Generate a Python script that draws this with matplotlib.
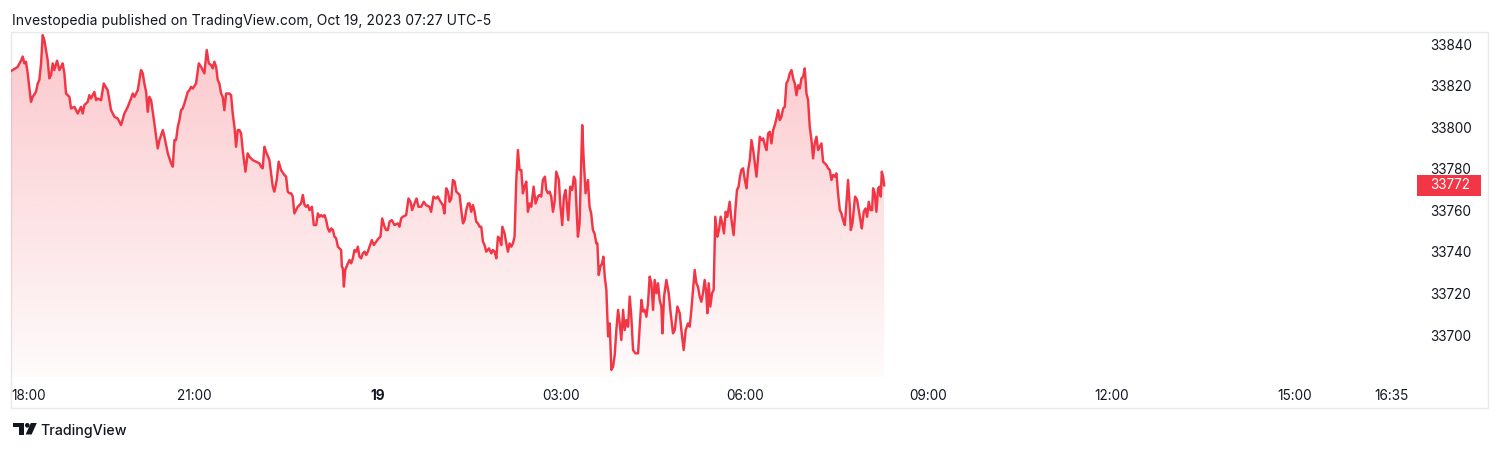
import matplotlib
matplotlib.use("Agg")
import matplotlib.pyplot as plt
import matplotlib.transforms as mtransforms
from matplotlib.patches import Rectangle, Polygon, Circle
import numpy as np

# ---------------- data (minutes after 18:00 on Oct 18, price) ----------------
t_a = [0, 1.6, 6.5, 9.8, 11.5, 13.1, 14.7, 16.4, 19.6, 21.3,
       24.5, 26.2, 27.8, 29.5, 31.1, 32.7, 36.0, 37.6, 39.3, 40.9,
       42.5, 45.2, 47.5, 49.1, 50.7, 52.4, 54.0, 57.3, 58.9, 62.2,
       65.5, 68.7, 70.4, 72.0, 75.3, 76.9, 78.5, 81.8, 83.5, 85.1,
       88.4, 91.0, 94.9, 98.2, 101.5, 104.7, 108.0, 111.3, 114.6, 117.8,
       119.5, 121.1, 124.4, 127.6, 129.3, 130.9, 132.6, 134.2, 135.8, 137.5,
       140.7, 144.0]
p_a = [33827, 33827.5, 33829, 33832, 33834, 33830.7, 33831.5, 33825.9, 33812.2, 33814.6,
       33817, 33821, 33822.7, 33830.7, 33844.3, 33841.9, 33832.3, 33823.5, 33825.1, 33830.7,
       33827.5, 33832, 33827.5, 33829, 33830.7, 33825.9, 33816.2, 33814.6, 33809, 33809.8,
       33806.6, 33809.8, 33806.6, 33810.6, 33812.2, 33815.4, 33813.8, 33817, 33813, 33813.8,
       33813, 33821, 33817.8, 33808.2, 33805, 33804.2, 33801, 33806.6, 33809.8, 33813.8,
       33816.2, 33814.6, 33817.8, 33827.5, 33825.9, 33821, 33817, 33807.4, 33814.6, 33813,
       33801.8, 33789.8]

t_b = [145.7, 149.0, 150.6, 153.9, 157.1, 158.8, 160.4, 162.0, 163.7, 165.3,
       166.9, 168.6, 170.2, 173.5, 175.1, 176.7, 178.4, 181.6, 184.3, 186.6,
       189.8, 192.1, 194.1, 196.4, 198.0, 199.6, 201.3, 202.9, 204.5, 206.2,
       207.8, 209.4, 211.1, 214.4, 216.0, 217.6, 219.3, 220.9, 222.5, 224.2,
       225.8, 227.4, 230.1, 232.3, 234.0, 237.2, 240.5, 243.8, 245.4, 247.0,
       248.7, 250.3, 253.6, 256.9, 258.5, 260.8, 262.7, 265.0, 268.3, 270.0,
       271.6, 273.2, 274.9, 276.5, 278.1, 281.4, 284.7]
p_b = [33793.8, 33798.6, 33795.4, 33787.4, 33782.6, 33781, 33793.8, 33793.8, 33800.2, 33803.4,
       33808.2, 33809, 33811.4, 33817, 33817.8, 33819.4, 33818.6, 33821, 33830.7, 33829,
       33825.9, 33837.1, 33830.7, 33829.9, 33828.3, 33831.5, 33829, 33822.7, 33821, 33816.2,
       33814.6, 33808.2, 33816.2, 33816.2, 33815.4, 33806.6, 33800.2, 33790.6, 33798.6, 33798.6,
       33797, 33789, 33778.6, 33787.4, 33785.8, 33784.2, 33783.4, 33782.6, 33781, 33780.2,
       33790.6, 33788.2, 33784.2, 33771.4, 33769, 33774.6, 33783.4, 33779.4, 33777, 33776.2,
       33769, 33768.2, 33768.2, 33766.6, 33758.5, 33761.7, 33763.3]

t_c = [286.4, 288.1, 289.7, 291.3, 293.0, 295.3, 297.2, 299.5, 301.2, 302.8,
       304.4, 306.1, 307.7, 309.3, 311.0, 312.6, 314.2, 315.9, 317.5, 319.1,
       320.8, 322.4, 324.0, 324.7, 325.7, 326.7, 328.0, 330.0, 332.2, 333.9,
       335.5, 337.1, 338.8, 340.4, 342.0, 343.7, 345.3, 347.0, 348.6, 350.2,
       351.9, 354.1, 356.1, 358.4, 360.7, 362.6, 364.3, 366.6, 368.2, 369.8,
       371.5, 373.7, 376.4, 379.6, 381.3, 382.9, 384.5, 387.8, 390.1, 392.1,
       393.7, 396.0, 398.0, 399.9, 402.5, 405.1, 407.4, 410.7, 412.3, 414.6,
       417.2, 418.9, 420.5, 423.8, 425.4, 427.1]
p_c = [33767.4, 33762.5, 33761.7, 33762.5, 33760.1, 33761.7, 33752.9, 33752.9, 33758.5, 33756.9,
       33757.7, 33756.9, 33757.7, 33755.3, 33751.3, 33749.7, 33751.3, 33750.5, 33747.3, 33746.5,
       33742.5, 33741.7, 33740.9, 33732.9, 33732.1, 33723.3, 33731.3, 33733.7, 33736.1, 33734.5,
       33736.9, 33740.9, 33740.1, 33742.5, 33737.7, 33736.9, 33739.3, 33740.1, 33738.5, 33740.1,
       33742.5, 33745.7, 33743.3, 33744.9, 33746.5, 33747.3, 33756.1, 33752.1, 33750.5, 33750.5,
       33754.5, 33755.3, 33752.9, 33753.7, 33752.1, 33756.1, 33756.9, 33757.7, 33765.7, 33764.1,
       33760.1, 33763.3, 33765.7, 33761.7, 33761.7, 33764.1, 33762.5, 33761.7, 33759.3, 33766.6,
       33765.7, 33766.6, 33765, 33762.5, 33758.5, 33770.6]

t_d = [428.8, 430.5, 432.1, 433.7, 435.4, 437.0, 440.3, 441.9, 443.6, 445.2,
       446.8, 448.5, 450.1, 451.7, 453.4, 455.0, 456.6, 458.3, 459.9, 461.5,
       463.2, 464.8, 466.4, 469.1, 471.4, 473.0, 474.6, 476.3, 477.9, 479.5,
       481.2, 482.2, 484.4, 486.1, 487.7, 489.3, 491.0, 492.6, 494.2, 495.9,
       497.5, 499.1, 500.8, 502.4, 504.0, 505.7, 507.3, 509.0, 510.6, 512.9,
       514.8, 517.1, 518.8, 520.4, 522.0, 524.0, 525.3, 527.0, 528.6, 530.2,
       531.9, 533.5, 535.1, 537.7, 539.0, 541.0, 542.6, 544.3, 545.6, 546.9,
       548.8, 550.8, 552.4, 553.8, 555.4, 556.4, 558.0, 559.6, 560.6, 561.9,
       563.9, 566.2, 567.8, 569.4, 571.1, 572.7, 574.4]
p_d = [33769, 33764.1, 33765.7, 33774.6, 33773.8, 33769, 33767.4, 33760.1, 33753.7, 33755.3,
       33760.1, 33763.3, 33763.3, 33759.3, 33762.5, 33759.3, 33754.5, 33753.7, 33752.1, 33752.1,
       33744.9, 33743.3, 33740.1, 33741.7, 33739.3, 33740.9, 33740.1, 33736.9, 33747.3, 33746.5,
       33743.3, 33752.1, 33748.9, 33744.1, 33740.1, 33744.1, 33742.5, 33744.1, 33747.3, 33774.6,
       33789, 33779.4, 33779.4, 33768.2, 33771.4, 33773.8, 33759.3, 33763.3, 33761.7, 33771.4,
       33763.3, 33766.6, 33767.4, 33766.6, 33774.6, 33776.2, 33769.8, 33768.2, 33769, 33766.6,
       33759.3, 33764.1, 33778.6, 33774.6, 33763.3, 33752.9, 33766.6, 33769.8, 33762.5, 33755.3,
       33771.4, 33769.8, 33776.2, 33774.6, 33756.9, 33747.3, 33753.7, 33782.6, 33801, 33785.8,
       33768.2, 33774.6, 33761.7, 33758.5, 33750.5, 33748.9, 33744.1]

t_e = [575.5, 576.8, 578.4, 580.1, 581.4, 582.7, 584.3, 586.0, 587.6, 589.2,
       590.9, 592.5, 594.1, 595.8, 597.4, 599.0, 600.7, 602.3, 603.9, 605.6,
       607.2, 608.8, 610.5, 612.8, 615.4, 617.0, 618.7, 620.3, 621.9, 623.6,
       625.2, 626.8, 628.5, 630.1, 631.7, 633.4, 635.0, 636.6, 638.3, 639.3,
       640.9, 643.2, 645.5, 647.4, 649.7, 651.4, 654.0, 656.3, 657.9, 660.2,
       662.1, 664.4, 666.1, 667.7, 669.3, 671.0, 672.6, 674.2, 675.9, 677.5,
       679.1, 680.8, 682.4, 683.4, 684.7, 686.3, 688.0, 689.6, 691.2, 693.2,
       694.8, 696.5, 698.1, 699.7, 701.4, 703.0, 705.3, 706.9, 709.2, 710.9,
       712.5, 714.1, 715.4, 716.8]
p_e = [33744.1, 33728.9, 33732.9, 33734.5, 33737.7, 33728.1, 33721.7, 33699.3, 33705.6, 33683.2,
       33684.8, 33690.4, 33702.4, 33712.1, 33705.6, 33697.6, 33712.1, 33702.4, 33707.2, 33704,
       33718.5, 33708.8, 33692.8, 33691.2, 33691.2, 33704, 33716.9, 33711.3, 33712.1, 33708.8,
       33715.3, 33728.1, 33724.9, 33712.1, 33726.5, 33720.1, 33724.9, 33716.9, 33713.7, 33700.8,
       33718.5, 33726.5, 33720.1, 33710.5, 33700.8, 33702.4, 33713.7, 33710.5, 33702.4, 33692.8,
       33702.4, 33705.6, 33704, 33712.1, 33721.7, 33731.3, 33724.9, 33723.3, 33718.5, 33716,
       33720.1, 33726.5, 33720.1, 33710.5, 33724.9, 33713.7, 33720.1, 33721.7, 33756.9, 33747.3,
       33750.5, 33756.9, 33753.7, 33748.9, 33759.3, 33756.9, 33764.1, 33756.1, 33748.1, 33760.1,
       33769.8, 33771.4, 33776.2, 33779.4]

t_f = [718.5, 720.2, 721.8, 723.4, 725.1, 726.7, 728.4, 730.0, 731.6, 733.3,
       734.9, 736.5, 738.2, 739.8, 741.4, 743.1, 744.7, 746.3, 748.0, 749.6,
       751.2, 752.9, 754.5, 756.1, 757.8, 759.4, 761.0, 762.7, 764.3, 766.0,
       767.6, 769.2, 770.9, 772.5, 774.1, 775.8, 777.4, 779.0, 780.7, 782.3,
       783.9, 785.6, 787.2, 788.8, 790.5, 792.1, 793.8, 795.4, 797.0, 798.7,
       800.3, 801.9, 803.6, 805.2, 806.8, 808.5, 810.1, 811.7, 813.4, 815.0,
       816.6, 818.3, 819.9, 821.5, 823.2, 824.2, 825.8, 827.1, 828.4, 830.4,
       832.0, 833.6, 835.0, 836.9, 838.6, 840.2, 841.8, 843.5, 845.1, 846.1,
       847.7, 849.3, 851.0, 852.6, 853.6, 854.6, 855.9, 856.9]
p_f = [33780.2, 33774.6, 33770.6, 33779.4, 33784.2, 33793.8, 33789, 33782.6, 33776.2, 33785.8,
       33795.4, 33793.8, 33794.6, 33791.4, 33789, 33797, 33797.8, 33792.2, 33798.6, 33801,
       33804.2, 33808.2, 33803.4, 33805, 33809, 33809.8, 33821.1, 33822.7, 33825.9, 33827.5,
       33823.5, 33821.1, 33815.4, 33820.2, 33818.6, 33823.5, 33824.3, 33828.3, 33816.2, 33813,
       33800.2, 33793.8, 33785, 33792.2, 33795.4, 33789, 33790.6, 33792.2, 33783.4, 33782.6,
       33781.8, 33780.2, 33779.4, 33774.6, 33777, 33776.2, 33777.8, 33768.2, 33760.1, 33758.5,
       33755.3, 33752.9, 33763.3, 33774.6, 33761.7, 33750.5, 33753.7, 33760.1, 33766.6, 33765,
       33760.1, 33755.3, 33751.3, 33759.3, 33760.9, 33756.9, 33764.1, 33760.1, 33760.1, 33770.6,
       33768.2, 33759.3, 33770.6, 33771.4, 33766.6, 33778.6, 33776.2, 33772]

tick_minutes = [0, 180, 360, 540, 720, 900, 1080, 1260, 1355]
tick_labels = ["18:00", "21:00", "19", "03:00", "06:00", "09:00", "12:00", "15:00", "16:35"]
price_ticks = [33700, 33720, 33740, 33760, 33780, 33800, 33820, 33840]

header = "Investopedia published on TradingView.com, Oct 19, 2023 07:27 UTC-5"
brand = "TradingView"

minutes = np.concatenate([t_a, t_b, t_c, t_d, t_e, t_f]).astype(float)
prices = np.concatenate([p_a, p_b, p_c, p_d, p_e, p_f]).astype(float)

# ---------------- style ----------------
RED = "#F23645"
TXT = "#131722"
FRAME = "#e6e9ef"
FONT = ["Inter", "DejaVu Sans"]
plt.rcParams["font.family"] = FONT

W, H = 1500, 450
fig = plt.figure(figsize=(W / 100, H / 100), dpi=100)
fig.patch.set_facecolor("white")


def fx(px):
    return px / W


def fy(py):
    return 1 - py / H


# background overlay in pixel coordinates (frame + logo)
bg = fig.add_axes([0, 0, 1, 1], zorder=0)
bg.set_xlim(0, W)
bg.set_ylim(H, 0)
bg.axis("off")
bg.add_patch(Rectangle((11, 32), 1477, 376, fill=False, ec=FRAME, lw=1.0))

# TradingView logo mark
LOGO = "#131722"
bg.add_patch(Rectangle((12.7, 423), 10.8, 4.4, fc=LOGO, ec="none"))
bg.add_patch(Rectangle((18.6, 423), 4.9, 11.5, fc=LOGO, ec="none"))
bg.add_patch(Circle((27.3, 425.3), 2.3, fc=LOGO, ec="none"))
bg.add_patch(Polygon([(30.8, 423), (36.8, 423), (31.6, 434.5), (25.6, 434.5)],
                     closed=True, fc=LOGO, ec="none"))

# main chart axes
ax = fig.add_axes([fx(11), fy(377), fx(1410) - fx(11), fy(32) - fy(377)], zorder=2)
ax.set_facecolor("none")
XMIN, XMAX = 0, 1373
YMIN, YMAX = 33679.8, 33845.8

ax.plot(minutes, prices, color=RED, lw=1.75, solid_joinstyle="round", zorder=3)

poly = ax.fill_between(minutes, prices, YMIN, facecolor="none", edgecolor="none")
rgb = np.array([242, 54, 69]) / 255.0
grad = np.zeros((256, 1, 4))
grad[:, 0, :3] = rgb
grad[:, 0, 3] = np.linspace(0.28, 0.02, 256)
im = ax.imshow(grad, aspect="auto", extent=[XMIN, XMAX, YMIN, YMAX],
               origin="upper", zorder=1, interpolation="bilinear")
im.set_clip_path(poly.get_paths()[0], transform=ax.transData)

ax.set_xlim(XMIN, XMAX)
ax.set_ylim(YMIN, YMAX)
for s in ax.spines.values():
    s.set_visible(False)

ax.set_xticks(tick_minutes)
ax.set_xticklabels(tick_labels)
ax.tick_params(axis="x", length=0, pad=8.5, labelsize=9.8, labelcolor=TXT)
xl = ax.get_xticklabels()
xl[0].set_ha("left")
xl[2].set_fontweight("bold")

ax.yaxis.tick_right()
ax.set_yticks(price_ticks)
ax.set_yticklabels([str(v) for v in price_ticks])
ax.tick_params(axis="y", length=0, pad=14.2, labelsize=9.8, labelcolor=TXT)

# last price tag
last = prices[-1]
btr = mtransforms.blended_transform_factory(fig.transFigure, ax.transData)
box_h = 21 / ((377 - 32) / (YMAX - YMIN))
ax.add_patch(Rectangle((fx(1417), last - box_h / 2), fx(1481) - fx(1417), box_h,
                       transform=btr, fc=RED, ec="none", clip_on=False, zorder=5))
ax.text(fx(1430), last, f"{last:.0f}", transform=btr, color="white", fontsize=9.8,
        va="center", ha="left", zorder=6, clip_on=False)

# header + brand text
t_head = fig.text(fx(12), fy(25), header, fontsize=10.5, color=TXT, va="baseline", ha="left")
t_brand = fig.text(fx(40), fy(434.5), brand, fontsize=11, color=TXT, va="baseline",
                   ha="left", fontweight="medium")

fig.canvas.draw()
r = fig.canvas.get_renderer()
for t, target in ((t_head, 476.0), (t_brand, 87.0)):
    w = t.get_window_extent(r).width
    t.set_fontsize(t.get_fontsize() * target / w)

fig.savefig("out.png", dpi=100, facecolor="white")
